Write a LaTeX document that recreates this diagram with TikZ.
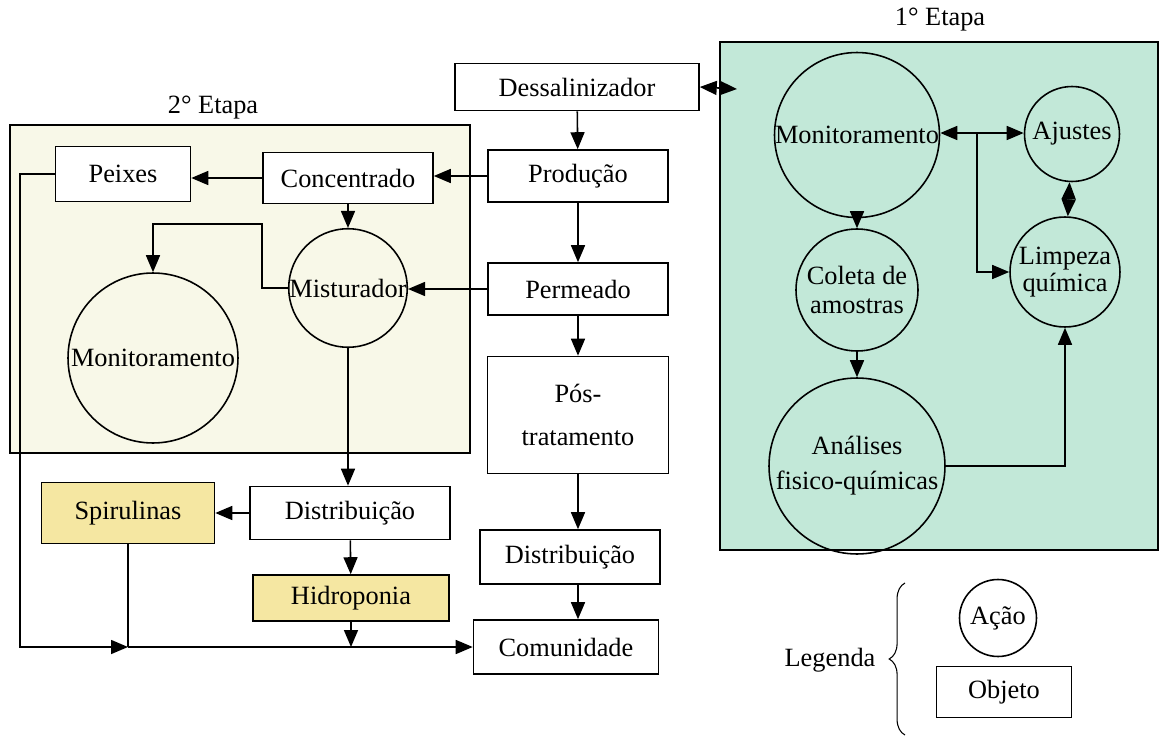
\documentclass[tikz,border=0pt]{standalone}
\usepackage{fontspec}
\setmainfont{Liberation Serif}
\usetikzlibrary{arrows.meta,decorations.pathreplacing}

\definecolor{creme}{HTML}{F8F8E8}
\definecolor{verde}{HTML}{C2E8D8}
\definecolor{amarelo}{HTML}{F5E7A2}

\tikzset{
	obj/.style={draw, fill=white, align=center, inner sep=2pt},
	acao/.style={draw, circle, align=center, inner sep=0pt},
}

\begin{document}
\begin{tikzpicture}[x=0.02cm, y=-0.02cm, font=\fontsize{15}{17}\selectfont, line width=0.9pt, >={Triangle[length=0.34cm,width=0.28cm]}]
	\useasboundingbox (0,0) rectangle (1161,737);
	\fill[white] (0,0) rectangle (1161,737);
	\draw[fill=creme] (10,125) rectangle (470,453);
	\draw[fill=verde] (720,42) rectangle (1158,550);
	\node (t2) at (213,108) {2° Etapa};
	\node (t1) at (940,20) {1° Etapa};
	% coluna central
	\node[obj, minimum width=4.88cm, minimum height=0.94cm] (des) at (577,87) {Dessalinizador};
	\node[obj, minimum width=3.6cm, minimum height=1.04cm] (prod) at (578,176) {Produção};
	\node[obj, minimum width=3.6cm, minimum height=1.04cm] (perm) at (578,289) {Permeado};
	\node[obj, minimum width=3.62cm, minimum height=2.34cm, font=\fontsize{15}{25}\selectfont] (pos) at (578,415) {Pós-\\tratamento};
	\node[obj, minimum width=3.6cm, minimum height=1.08cm] (disR) at (570,557) {Distribuição};
	\node[obj, minimum width=3.7cm, minimum height=1.08cm] (com) at (566,647) {Comunidade};
	% 2a etapa
	\node[obj, minimum width=2.7cm, minimum height=1.1cm] (pei) at (123,174) {Peixes};
	\node[obj, minimum width=3.4cm, minimum height=1.02cm] (conc) at (348,178) {Concentrado};
	\node[acao, minimum size=2.3cm, fill=creme] (mist) at (348,288) {Misturador};
	\node[acao, minimum size=3.4cm, fill=creme] (monL) at (153,358) {Monitoramento};
	\node[obj, minimum width=4cm, minimum height=1.06cm] (disL) at (350,513) {Distribuição};
	\node[obj, fill=amarelo, minimum width=3.46cm, minimum height=1.22cm] (spir) at (128,513) {Spirulinas};
	\node[obj, fill=amarelo, minimum width=3.92cm, minimum height=0.92cm] (hid) at (351,598) {Hidroponia};
	% 1a etapa
	\node[acao, minimum size=3.3cm] (monR) at (857,135) {Monitoramento};
	\node[acao, minimum size=1.9cm] (aj) at (1072,134) {Ajustes};
	\node[acao, minimum size=2.2cm, font=\fontsize{15}{15}\selectfont] (lim) at (1065,272) {Limpeza\\química};
	\node[acao, minimum size=2.44cm, font=\fontsize{15}{16}\selectfont] (col) at (857,290) {Coleta de\\amostras};
	\node[acao, minimum size=3.52cm, font=\fontsize{15}{20}\selectfont] (ana) at (857,466) {Análises\\fisico-químicas};
	% legenda
	\node (leg) at (830,660) {Legenda};
	\node[acao, minimum size=1.54cm] (acao) at (998,618) {Ação};
	\node[obj, minimum width=2.7cm, minimum height=1.02cm] (objt) at (1004,692) {Objeto};
	\draw[line width=0.6pt, decorate, decoration={brace, amplitude=9pt}] (905,735) -- (905,583);

	\coordinate (e1) at (737,89);
	\draw[<->] (des.east) -- (e1);
	\draw[->] (des) -- (prod);
	\draw[->] (prod) -- (perm);
	\draw[->] (perm) -- (pos);
	\draw[->] (pos) -- (pos |- disR.north);
	\draw[->] (pos |- disR.south) -- (pos |- com.north);
	\draw[->] (prod.west) -- (prod.west -| conc.east);
	\draw[->] (conc.west) -- (conc.west -| pei.east);
	\draw[->] (conc) -- (mist);
	\draw[->] (perm.west) -- (perm.west -| mist.east);
	\draw[->] (mist.west) -| (262,224) -| (monL.north);
	\draw[->] (mist) -- (mist |- disL.north);
	\draw[->] (disL) -- (spir);
	\draw[->] (disL) -- (hid);
	\coordinate (jn) at (spir.south |- com.west);
	\draw[->] (pei.west) -- (20,174) |- (jn);
	\draw (spir.south) -- (jn);
	\draw[->] (jn) -- (com.west);
	\draw[->] (hid.south) -- (hid.south |- com.west);

	\coordinate (br) at (977,133);
	\draw[<->] (monR.east |- br) -- (aj.west |- br);
	\draw[->] (br) |- (lim.west);
	\draw[<->] (aj) -- (lim);
	\draw[->] (monR) -- (col);
	\draw[->] (col) -- (ana);
	\draw[->] (ana.east) -| (lim.south);
\end{tikzpicture}
\end{document}
